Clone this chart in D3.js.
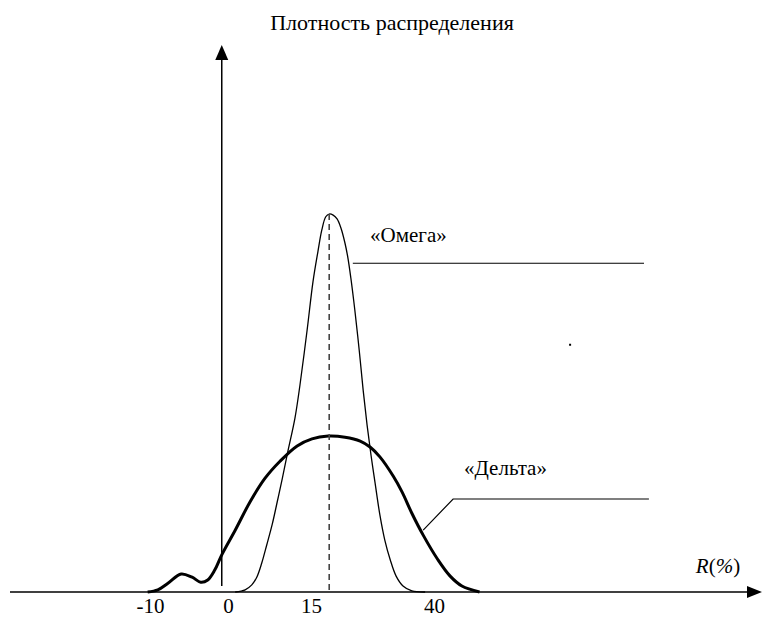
<!DOCTYPE html>
<html>
<head>
<meta charset="utf-8">
<script src="https://cdn.jsdelivr.net/npm/d3@7"></script>
<style>
  html, body { margin: 0; padding: 0; background: #fff; }
  svg { display: block; }
</style>
</head>
<body>
<svg id="chart" width="764" height="617"></svg>
<script>
// ---- data ----
const title = "Плотность распределения";
const xLabel = "R(%)";
const tickValues = [-10, 0, 15, 40];
const tickLabels = ["-10", "0", "15", "40"];

// «Дельта» density curve: [R, density]
const deltaR = [-10.3, -9.0, -7.7, -6.0, -4.6, -3.5, -2.6, -1.7, -0.8, 1.3, 4.0, 6.7, 9.4, 12.5, 15.2, 18.5, 21.9, 25.0, 27.0, 29.0, 31.7, 33.5, 35.5, 37.8, 40.8, 43.3, 45.7, 49.3];
const deltaD = [0, 0.4, 1.6, 3.3, 2.7, 1.8, 2.2, 4.0, 6.8, 11.3, 16.5, 20.8, 23.9, 26.7, 28.0, 28.5, 28.3, 27.6, 26.5, 24.7, 21.2, 18.3, 14.4, 10.4, 5.9, 2.9, 1.1, 0];

// «Омега» density curve: [R, density]
const omegaR = [1.3, 3.1, 4.3, 5.2, 6.1, 7.0, 8.0, 8.9, 9.8, 10.8, 12.1, 13.0, 14.3, 15.4, 16.4, 17.2, 18.0, 18.7, 19.5, 20.3, 21.1, 21.9, 22.5, 23.1, 23.9, 24.8, 25.6, 26.4, 27.2, 28.0, 29.0, 30.0, 31.1, 32.3, 33.7, 35.5, 38.2];
const omegaD = [0, 0.4, 1.3, 2.7, 5.3, 8.6, 12.4, 16.5, 20.7, 25.6, 31.8, 37.8, 47.9, 56.7, 62.2, 66.2, 68.6, 69.1, 68.9, 68.2, 66.5, 63.8, 61.1, 57.4, 51.6, 44.2, 36.9, 30.5, 25.0, 20.1, 14.1, 9.5, 5.9, 2.9, 1.1, 0.2, 0];

const seriesNames = ["«Омега»", "«Дельта»"];
const omegaPeak = [18.7, 69.1];
// leader lines [R, density]
const omegaLeader = [[23.5, 60.1], [82.9, 60.1]];
const deltaLeader = [[37.8, 11.3], [43.9, 17.0], [83.9, 17.0]];
const omegaLabelAt = [27.0, 64.0];
const deltaLabelAt = [54.6, 21.4];
const strayDot = [67.8, 45.2];

// axis extents
const xDomain = [-28, -10, 0, 15, 40, 107];
const yDomain = [0, 100];
const yAxisR = -0.8;
const yAxisStart = 1.1;

// ---- drawing ----
const FONT = "'Liberation Serif', 'Times New Roman', serif";
const svg = d3.select("#chart");
const x = d3.scaleLinear().domain(xDomain).range([10, 150, 228, 311, 434, 762]);
const y = d3.scaleLinear().domain(yDomain).range([592, 45]);

// title
svg.append("text")
  .attr("x", 392).attr("y", 30)
  .attr("text-anchor", "middle")
  .style("font-family", FONT)
  .style("font-size", "22px")
  .text(title);

// x axis line + arrow
const x0 = x(xDomain[0]), x1 = x(xDomain[xDomain.length - 1]);
svg.append("line")
  .attr("x1", x0).attr("x2", x1 - 10)
  .attr("y1", y(0)).attr("y2", y(0))
  .attr("stroke", "#000").attr("stroke-width", 1.5);
svg.append("path")
  .attr("d", `M${x1},${y(0)} L${x1 - 15},${y(0) - 6} L${x1 - 15},${y(0) + 6} Z`)
  .attr("fill", "#000");

// y axis line + arrow
const ya = x(yAxisR), yTop = y(yDomain[1]);
svg.append("line")
  .attr("x1", ya).attr("x2", ya)
  .attr("y1", y(yAxisStart)).attr("y2", yTop + 10)
  .attr("stroke", "#000").attr("stroke-width", 1.5);
svg.append("path")
  .attr("d", `M${ya},${yTop} L${ya - 6.5},${yTop + 15} L${ya + 6.5},${yTop + 15} Z`)
  .attr("fill", "#000");

// tick labels via axis
const xAxis = d3.axisBottom(x)
  .tickValues(tickValues)
  .tickFormat((d, i) => tickLabels[i])
  .tickSize(0)
  .tickPadding(6);
const gx = svg.append("g")
  .attr("transform", `translate(0,${y(0)})`)
  .call(xAxis);
gx.select(".domain").remove();
gx.attr("font-family", null).attr("font-size", null);
gx.selectAll("text")
  .style("font-size", "21px")
  .style("font-family", FONT)
  .attr("fill", "#000");

// x label
const xl = svg.append("text")
  .attr("x", 718).attr("y", 573)
  .attr("text-anchor", "middle")
  .style("font-family", FONT)
  .style("font-size", "21px");
xl.append("tspan").style("font-style", "italic").text(xLabel.slice(0, 1));
xl.append("tspan").text(xLabel.slice(1, 2));
xl.append("tspan").style("font-style", "italic").text(xLabel.slice(2, 3));
xl.append("tspan").text(xLabel.slice(3));

const line = d3.line().x(d => x(d[0])).y(d => y(d[1])).curve(d3.curveCatmullRom.alpha(0.5));

// omega curve
svg.append("path")
  .datum(omegaR.map((r, i) => [r, omegaD[i]]))
  .attr("d", line)
  .attr("fill", "none").attr("stroke", "#000").attr("stroke-width", 1.3);

// delta curve
svg.append("path")
  .datum(deltaR.map((r, i) => [r, deltaD[i]]))
  .attr("d", line)
  .attr("fill", "none").attr("stroke", "#000").attr("stroke-width", 3)
  .attr("stroke-linejoin", "round");

// dashed peak line
svg.append("line")
  .attr("x1", x(omegaPeak[0])).attr("x2", x(omegaPeak[0]))
  .attr("y1", y(omegaPeak[1])).attr("y2", y(0))
  .attr("stroke", "#444").attr("stroke-width", 1.6)
  .attr("stroke-dasharray", "6,4");

// leader lines
const lin = d3.line().x(d => x(d[0])).y(d => y(d[1]));
svg.append("path").attr("d", lin(omegaLeader))
  .attr("fill", "none").attr("stroke", "#000").attr("stroke-width", 1.2);
svg.append("path").attr("d", lin(deltaLeader))
  .attr("fill", "none").attr("stroke", "#000").attr("stroke-width", 1.2);

// labels
svg.append("text")
  .attr("x", x(omegaLabelAt[0])).attr("y", y(omegaLabelAt[1]))
  .style("font-family", FONT)
  .style("font-size", "21px")
  .text(seriesNames[0]);
svg.append("text")
  .attr("x", x(deltaLabelAt[0])).attr("y", y(deltaLabelAt[1]))
  .attr("text-anchor", "middle")
  .style("font-family", FONT)
  .style("font-size", "21px")
  .text(seriesNames[1]);

// stray dot
svg.append("rect")
  .attr("x", x(strayDot[0]) - 1).attr("y", y(strayDot[1]) - 1)
  .attr("width", 2).attr("height", 2)
  .attr("fill", "#000");
</script>
</body>
</html>
